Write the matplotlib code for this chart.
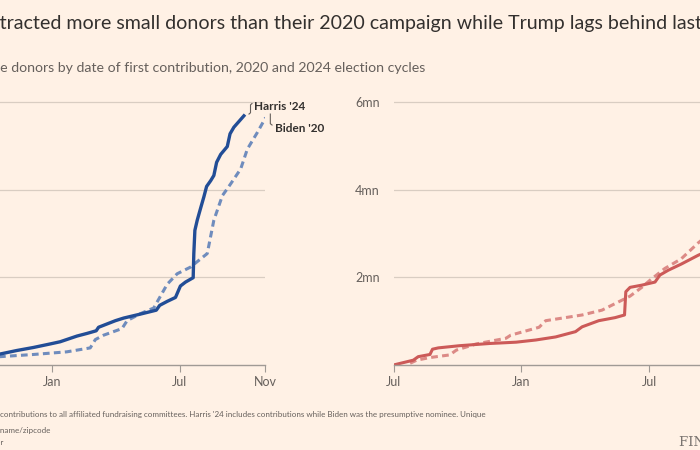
import matplotlib
matplotlib.use("Agg")
import matplotlib.pyplot as plt
from matplotlib import font_manager

# months since 1 July of the year before the election
harris_m = [0, 2, 3.57, 4.35, 5.14, 5.92, 6.39, 7.18, 7.65, 8.08, 8.19, 8.98, 9.37, 10.15,
            10.9, 11.06, 11.41, 11.8, 12.03, 12.27, 12.63, 12.66, 12.71, 12.82, 12.97,
            13.13, 13.26, 13.45, 13.6, 13.73, 13.92, 14.23, 14.36, 14.54, 15.01]
harris_v = [0.08, 0.16, 0.25, 0.33, 0.40, 0.48, 0.53, 0.66, 0.72, 0.78, 0.86, 1.01, 1.07, 1.16,
            1.25, 1.36, 1.45, 1.54, 1.80, 1.89, 1.99, 2.54, 3.07, 3.30, 3.56,
            3.83, 4.07, 4.20, 4.32, 4.62, 4.80, 4.98, 5.27, 5.42, 5.68]

biden_m = [0, 2, 3.57, 5.14, 6.7, 7.8, 8.04, 8.43, 9.29, 9.53, 10.15, 10.78, 11.41, 11.88,
           12.5, 13.29, 13.6, 14.0, 14.39, 14.86, 15.17, 15.64, 16.03]
biden_v = [0.05, 0.12, 0.19, 0.24, 0.30, 0.39, 0.58, 0.68, 0.83, 1.01, 1.17, 1.30, 1.84, 2.08,
           2.23, 2.54, 3.30, 3.86, 4.13, 4.47, 4.92, 5.30, 5.64]

trump24_m = [0, 0.93, 1.16, 1.71, 1.83, 2.10, 3.1, 4.5, 5.75, 6.68, 7.61, 8.54, 8.85, 9.63,
             10.4, 10.84, 10.9, 11.1, 11.65, 12.27, 12.5, 12.89, 13.5, 14.29, 15.1]
trump24_v = [0.0, 0.11, 0.19, 0.24, 0.36, 0.39, 0.44, 0.49, 0.52, 0.57, 0.64, 0.76, 0.87, 1.01,
             1.08, 1.14, 1.67, 1.77, 1.82, 1.89, 2.05, 2.16, 2.30, 2.50, 2.68]

trump20_m = [0.78, 1.09, 1.71, 2.64, 2.95, 3.88, 5.28, 5.5, 6.83, 7.14, 8.85, 9.78, 10.4,
             11.1, 11.65, 12.03, 12.73, 13.5, 14.29, 15.1]
trump20_v = [0.04, 0.11, 0.17, 0.23, 0.34, 0.48, 0.61, 0.68, 0.86, 1.01, 1.14, 1.25, 1.40,
             1.57, 1.77, 1.93, 2.20, 2.42, 2.78, 3.10]

month_ticks = [0, 6, 12, 16]
month_labels = ["Jul", "Jan", "Jul", "Nov"]
y_ticks = [2, 4, 6]
y_labels = ["2mn", "4mn", "6mn"]

title = ("Democrats have attracted more small donors than their 2020 campaign "
         "while Trump lags behind last cycle")
subtitle = "Cumulative unique donors by date of first contribution, 2020 and 2024 election cycles"
note1 = ("Note: includes contributions to all affiliated fundraising committees. Harris '24 "
         "includes contributions while Biden was the presumptive nominee. Unique")
note2 = "donors identified by first name/last name/zipcode"
note3 = "Source: FT analysis of FEC data. Graphic: FT reporter"

BG = "#fff1e5"
DARK = "#33302e"
GREY = "#66605c"
GRID = "#d9cdc2"
AXIS = "#a09a95"

plt.rcParams["font.family"] = ["Lato", "DejaVu Sans"]

# a narrow face for the footnotes if there is one
names = {f.name for f in font_manager.fontManager.ttflist}
if "Liberation Sans Narrow" in names:
    NOTE_FONT, NOTE_SIZE = ["Liberation Sans Narrow"], 7
else:
    NOTE_FONT, NOTE_SIZE = ["Lato"], 5.75

W, H = 700, 450
fig = plt.figure(figsize=(7, 4.5), dpi=100, facecolor=BG)
renderer = fig.canvas.get_renderer()


def px_ax(x0, x1, y0, y1):
    return [x0 / W, 1 - y1 / H, (x1 - x0) / W, (y1 - y0) / H]


def clipped_text(full, visible, x_px, y_px, **kw):
    # put the full string so that `visible` starts at x_px
    idx = full.rindex(visible)
    t = fig.text(0, 0, full[:idx] + visible, **kw)
    w_all = t.get_window_extent(renderer).width
    t.set_text(visible)
    w_vis = t.get_window_extent(renderer).width
    t.remove()
    fig.text((x_px - (w_all - w_vis)) / W, 1 - y_px / H, full, va="center", **kw)


def style(ax):
    ax.set_facecolor(BG)
    ax.set_xlim(0, 16)
    ax.set_ylim(0, 6.2)
    for s in ["top", "right", "left"]:
        ax.spines[s].set_visible(False)
    ax.spines["bottom"].set_color(AXIS)
    ax.spines["bottom"].set_linewidth(1)
    ax.set_xticks(month_ticks)
    ax.set_xticklabels(month_labels)
    ax.set_yticks(y_ticks)
    ax.set_yticklabels(y_labels)
    ax.tick_params(axis="x", length=5, color=AXIS, labelcolor=GREY, labelsize=9, pad=3)
    ax.tick_params(axis="y", length=0, labelcolor=GREY, labelsize=9, pad=10)
    ax.grid(axis="y", color=GRID, linewidth=0.9)
    ax.set_axisbelow(True)


ax1 = fig.add_axes(px_ax(-76, 265, 93, 365))
ax2 = fig.add_axes(px_ax(393.5, 734.5, 93, 365))
style(ax1)
style(ax2)

ax1.plot(biden_m, biden_v, color="#6f8cbd", lw=2.2, ls=(0, (2.2, 1.4)))
ax1.plot(harris_m, harris_v, color="#224d96", lw=2.4)
ax2.plot(trump20_m, trump20_v, color="#dc8a86", lw=2.2, ls=(0, (2.2, 1.4)))
ax2.plot(trump24_m, trump24_v, color="#cc5a58", lw=2.2)

# labels with small leader lines
ax1.plot([15.25, 15.32, 15.32, 15.39], [5.72, 5.75, 5.93, 5.96], color=GREY, lw=0.8, clip_on=False)
ax1.text(15.5, 5.9, "Harris '24", fontsize=8.5, fontweight="bold", color=DARK,
         va="center", clip_on=False)
ax1.plot([16.25, 16.25, 16.33], [5.72, 5.5, 5.47], color=GREY, lw=0.8, clip_on=False)
ax1.text(16.45, 5.4, "Biden '20", fontsize=8.5, fontweight="bold", color=DARK,
         va="center", clip_on=False)

clipped_text(title, "tracted", 0, 24, fontsize=14.1, color=DARK)
clipped_text(subtitle, "e donors", 0, 68, fontsize=10.2, color=GREY)
clipped_text(note1, "contributions to", 0, 415, fontsize=NOTE_SIZE, color=GREY, family=NOTE_FONT)
clipped_text(note2, "name/zipcode", 0, 430, fontsize=NOTE_SIZE, color=GREY, family=NOTE_FONT)
clipped_text(note3, "r", 0, 443, fontsize=NOTE_SIZE, color=GREY, family=NOTE_FONT)

fig.text(679 / W, 1 - 442 / H, "FINANCIAL TIMES", fontsize=9.5, color="#7a7470",
         family="DejaVu Serif", va="center")

fig.savefig("out.png", dpi=100, facecolor=BG)
